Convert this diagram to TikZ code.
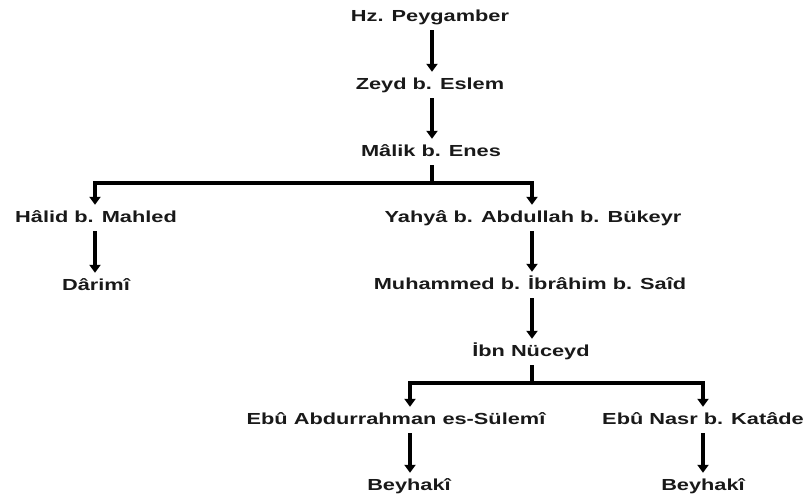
\documentclass[tikz,border=0pt]{standalone}
\usepackage{fontspec}
\setmainfont{Liberation Sans}
\usepackage{graphicx}
\usetikzlibrary{arrows.meta}
\newcommand\wtxt[1]{\scalebox{1.36}[1]{#1}}
\begin{document}
\begin{tikzpicture}[x=1pt,y=-1pt,
  pname/.style={text=black!90, font=\fontsize{16}{19}\selectfont\bfseries,
    inner sep=0pt, text height=12pt, text depth=3pt, minimum height=26pt},
  link/.style={line width=3.3pt, draw=black, line join=miter},
  arr/.style={link, -{Triangle[width=11pt,length=8pt]}}]
\useasboundingbox (0,0) rectangle (808,497);
\node[pname] (hz) at (430,17) {\wtxt{Hz. Peygamber}};
\node[pname] (zeyd) at (430,85) {\wtxt{Zeyd b. Eslem}};
\node[pname] (malik) at (431,152) {\wtxt{Mâlik b. Enes}};
\node[pname] (halid) at (96,218) {\wtxt{Hâlid b. Mahled}};
\node[pname] (yahya) at (533,218) {\wtxt{Yahyâ b. Abdullah b. Bükeyr}};
\node[pname] (darimi) at (96,286) {\wtxt{Dârimî}};
\node[pname] (muh) at (530,285) {\wtxt{Muhammed b. İbrâhim b. Saîd}};
\node[pname] (ibn) at (531,352) {\wtxt{İbn Nüceyd}};
\node[pname] (ebuA) at (396,420) {\wtxt{Ebû Abdurrahman es-Sülemî}};
\node[pname] (ebuB) at (703,420) {\wtxt{Ebû Nasr b. Katâde}};
\node[pname] (beyA) at (409,486) {\wtxt{Beyhakî}};
\node[pname] (beyB) at (703,486) {\wtxt{Beyhakî}};
\coordinate (bar1) at (0,183);
\coordinate (bar2) at (0,383);
\coordinate (colM) at (432,0);
\coordinate (colH) at (95,0);
\coordinate (colY) at (532,0);
\coordinate (colA) at (410,0);
\coordinate (colB) at (703,0);
\draw[arr] (hz.south -| colM) -- (zeyd.north -| colM);
\draw[arr] (zeyd.south -| colM) -- (malik.north -| colM);
\draw[arr] (malik.south -| colM) -- (colM |- bar1) -| (colH |- halid.north);
\draw[arr] (colM |- bar1) -| (colY |- yahya.north);
\draw[arr] (colH |- halid.south) -- (colH |- darimi.north);
\draw[arr] (colY |- yahya.south) -- (colY |- muh.north);
\draw[arr] (colY |- muh.south) -- (colY |- ibn.north);
\draw[arr] (colY |- ibn.south) -- (colY |- bar2) -| (colA |- ebuA.north);
\draw[arr] (colY |- bar2) -| (colB |- ebuB.north);
\draw[arr] (colA |- ebuA.south) -- (colA |- beyA.north);
\draw[arr] (colB |- ebuB.south) -- (colB |- beyB.north);
\end{tikzpicture}
\end{document}
